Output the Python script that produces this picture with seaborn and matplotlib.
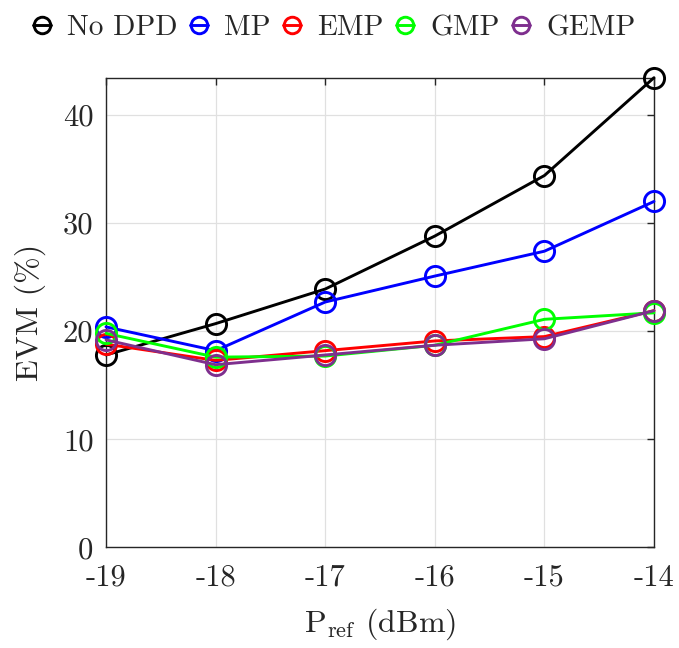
import matplotlib
matplotlib.use("Agg")
import matplotlib.pyplot as plt
import seaborn as sns
import pandas as pd

p_ref = [-19, -18, -17, -16, -15, -14]
no_dpd = [17.8, 20.7, 23.9, 28.8, 34.4, 43.45]
mp = [20.4, 18.2, 22.7, 25.1, 27.4, 32.0]
emp = [18.8, 17.3, 18.2, 19.1, 19.5, 21.9]
gmp = [19.8, 17.6, 17.7, 18.7, 21.1, 21.7]
gemp = [19.2, 16.9, 17.8, 18.7, 19.3, 21.9]
names = ["No DPD", "MP", "EMP", "GMP", "GEMP"]
colors = ["black", (0, 0, 1), (1, 0, 0), (0, 1, 0), (0.494, 0.184, 0.556)]
xtick_labels = ["-19", "-18", "-17", "-16", "-15", "-14"]
yticks = [0, 10, 20, 30, 40]

sns.set_theme(style="white")
plt.rcParams["font.family"] = ["cmr10", "DejaVu Serif"]
plt.rcParams["mathtext.fontset"] = "cm"
plt.rcParams["axes.formatter.use_mathtext"] = True

rows = []
for name, vals in zip(names, [no_dpd, mp, emp, gmp, gemp]):
    for x, v in zip(p_ref, vals):
        rows.append({"P": x, "EVM": v, "method": name})
df = pd.DataFrame(rows)

fig = plt.figure(figsize=(6.79, 6.48), dpi=100)
ax = fig.add_axes([106 / 679, 1 - 547.4 / 648, (654 - 106) / 679, (547.4 - 77.7) / 648])

for name, col in zip(names, colors):
    sub = df[df["method"] == name]
    sns.lineplot(data=sub, x="P", y="EVM", ax=ax, color=col, label=name,
                 marker="o", markersize=14.5, markerfacecolor="none",
                 markeredgecolor=col, markeredgewidth=2.1, linewidth=2.1,
                 clip_on=False, zorder=3)

ax.set_xlim(-19, -14)
ax.set_ylim(0, 43.45)
ax.set_xticks(p_ref)
ax.set_xticklabels(xtick_labels)
ax.set_yticks(yticks)
ax.set_yticklabels([str(t) for t in yticks])
ax.grid(True, color=(0.88, 0.88, 0.88), linewidth=0.9)
ax.set_axisbelow(True)
for s in ax.spines.values():
    s.set_visible(True)
    s.set_color((0.15, 0.15, 0.15))
    s.set_linewidth(1.0)
ax.tick_params(direction="in", length=5, width=1.0, colors=(0.15, 0.15, 0.15),
               top=True, right=True, labelsize=22)
ax.tick_params(axis="x", pad=12)
ax.tick_params(axis="y", pad=9)
for lab in ax.get_xticklabels() + ax.get_yticklabels():
    lab.set_color("#262626")
ax.set_xlabel(r"$\mathrm{P_{ref}}$ (dBm)", fontsize=23, color="#262626", labelpad=11)
ax.set_ylabel("EVM (%)", fontsize=23, color="#262626", labelpad=12)

ax.get_legend().remove()
handles, labels = ax.get_legend_handles_labels()
fig.legend(handles, labels, loc="center left", bbox_to_anchor=(33 / 679, 1 - 28 / 648),
           ncol=5, frameon=False, fontsize=21, handlelength=0.6, handletextpad=0.55,
           columnspacing=0.45, borderpad=0, borderaxespad=0, markerscale=0.82)

fig.savefig("out.png", dpi=100)
